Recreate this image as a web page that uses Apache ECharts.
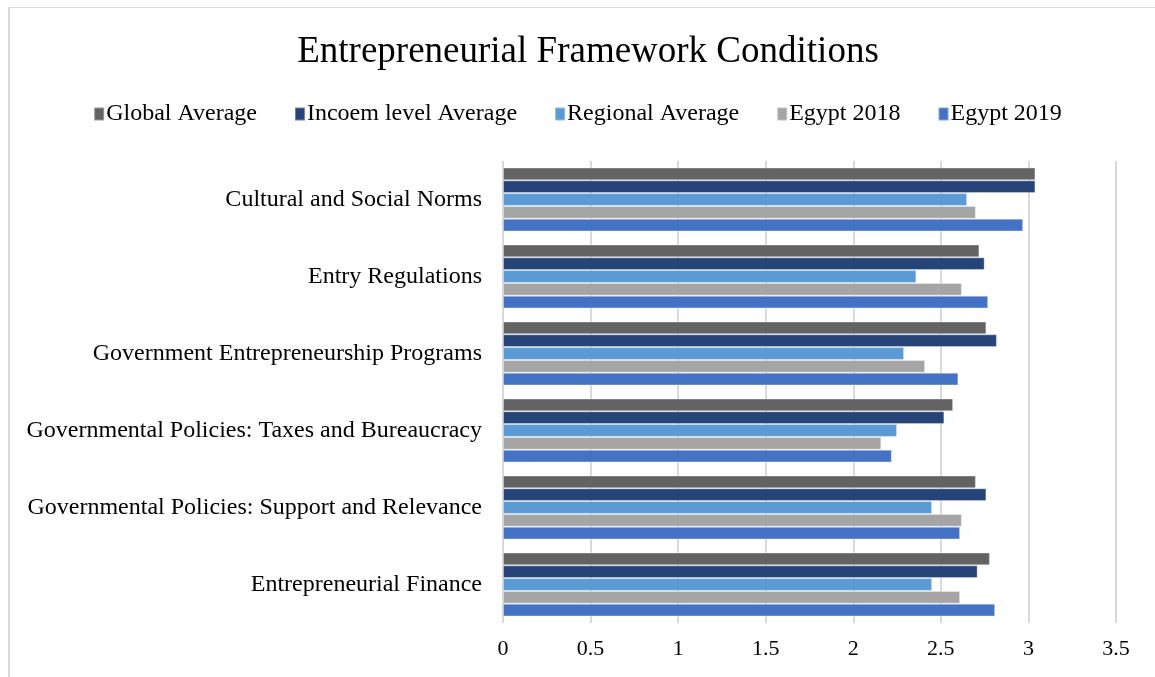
<!DOCTYPE html>
<html>
<head>
<meta charset="utf-8">
<script src="https://cdn.jsdelivr.net/npm/echarts@6/dist/echarts.min.js"></script>
<style>
  html, body { margin: 0; padding: 0; background: #fff; }
  .frame {
    position: absolute; left: 8px; top: 7px; width: 1147px; height: 670px;
    border-left: 2px solid #d9d9d9; border-top: 1px solid #d9d9d9;
    box-sizing: border-box;
  }
  #chart { position: absolute; left: 0; top: 0; width: 1155px; height: 677px; }
</style>
</head>
<body>
<div class="frame"></div>
<div id="chart"></div>
<script>
// categories, top to bottom
const categories = [
  'Cultural and Social Norms',
  'Entry Regulations',
  'Government Entrepreneurship Programs',
  'Governmental Policies: Taxes and Bureaucracy',
  'Governmental Policies: Support and Relevance',
  'Entrepreneurial Finance'
]

const seriesNames = ['Global Average', 'Incoem level Average', 'Regional Average', 'Egypt 2018', 'Egypt 2019']

const globalAverage = [3.04, 2.72, 2.76, 2.57, 2.70, 2.78]
const incomeLevelAverage = [3.04, 2.75, 2.82, 2.52, 2.76, 2.71]
const regionalAverage = [2.65, 2.36, 2.29, 2.25, 2.45, 2.45]
const egypt2018 = [2.70, 2.62, 2.41, 2.16, 2.62, 2.61]
const egypt2019 = [2.97, 2.77, 2.60, 2.22, 2.61, 2.81]

const xTicks = [0, 0.5, 1, 1.5, 2, 2.5, 3, 3.5]

const colors = ['#636363', '#264478', '#5b9bd5', '#a5a5a5', '#4472c4']
const font = '"Liberation Serif", "DejaVu Serif", serif'

const chart = echarts.init(document.getElementById('chart'), null, { renderer: 'canvas' })

const seriesData = [globalAverage, incomeLevelAverage, regionalAverage, egypt2018, egypt2019]

const series = seriesNames.map((name, i) => ({
  name,
  type: 'bar',
  data: seriesData[i],
  barGap: '0%',
  barCategoryGap: '17%',
  itemStyle: {
    color: colors[i],
    borderColor: 'rgba(255,255,255,0.35)',
    borderWidth: 1
  }
}))

chart.setOption({
  backgroundColor: 'transparent',
  animation: false,
  color: colors,
  title: {
    text: 'Entrepreneurial Framework Conditions',
    left: 583,
    textAlign: 'center',
    top: 29,
    textStyle: {
      fontFamily: font,
      fontWeight: 'normal',
      fontSize: 37,
      color: '#000'
    }
  },
  legend: {
    top: 97,
    left: 'center',
    itemWidth: 10,
    itemHeight: 13,
    itemGap: 37,
    icon: 'rect',
    textStyle: {
      fontFamily: font,
      fontSize: 24,
      color: '#000',
      padding: [0, 0, 0, -3]
    },
    data: seriesNames
  },
  grid: {
    left: 503,
    right: 39,
    top: 161,
    bottom: 54,
    containLabel: false
  },
  xAxis: {
    type: 'value',
    min: 0,
    max: 3.5,
    interval: 0.5,
    axisLine: { show: false },
    axisTick: { show: false },
    axisLabel: {
      fontFamily: font,
      fontSize: 22,
      color: '#000',
      margin: 15,
      formatter: v => xTicks.includes(v) ? String(v) : ''
    },
    splitLine: {
      show: true,
      lineStyle: { color: '#d9d9d9', width: 2 }
    }
  },
  yAxis: {
    type: 'category',
    data: categories,
    inverse: true,
    axisLine: { show: false },
    axisTick: { show: false },
    axisLabel: {
      fontFamily: font,
      fontSize: 24,
      color: '#000',
      margin: 21
    }
  },
  series
})
</script>
</body>
</html>
